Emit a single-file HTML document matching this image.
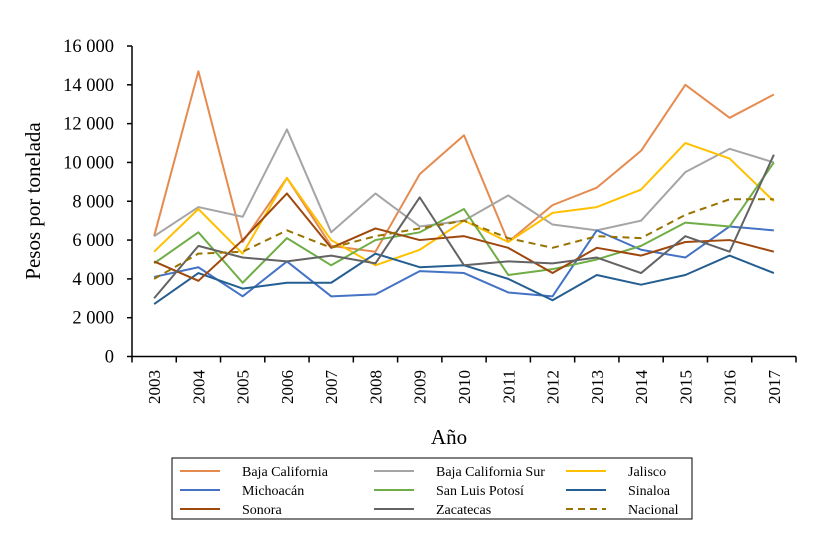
<!DOCTYPE html>
<html><head><meta charset="utf-8"><style>
body{margin:0;background:#fff;}
svg{display:block;font-family:"Liberation Serif",serif;}
</style></head><body>
<svg id="c" width="831" height="552"></svg>
<script>
const years=[2003,2004,2005,2006,2007,2008,2009,2010,2011,2012,2013,2014,2015,2016,2017];
const yTicks=[0,2000,4000,6000,8000,10000,12000,14000,16000];
const names=["Baja California","Baja California Sur","Jalisco","Michoacán","San Luis Potosí","Sinaloa","Sonora","Zacatecas","Nacional"];
const bajaCalifornia=[6200,14700,5900,9200,5700,5400,9400,11400,5900,7800,8700,10600,14000,12300,13500];
const bajaCaliforniaSur=[6200,7700,7200,11700,6400,8400,6700,7000,8300,6800,6500,7000,9500,10700,10000];
const jalisco=[5400,7600,5300,9200,6000,4700,5500,7000,5900,7400,7700,8600,11000,10200,8000];
const michoacan=[4100,4600,3100,4900,3100,3200,4400,4300,3300,3100,6500,5500,5100,6700,6500];
const sanLuisPotosi=[4800,6400,3800,6100,4700,6000,6400,7600,4200,4500,5000,5700,6900,6700,10000];
const sinaloa=[2700,4300,3500,3800,3800,5300,4600,4700,4000,2900,4200,3700,4200,5200,4300];
const sonora=[4900,3900,6000,8400,5600,6600,6000,6200,5600,4300,5600,5200,5900,6000,5400];
const zacatecas=[3000,5700,5100,4900,5200,4800,8200,4700,4900,4800,5100,4300,6200,5400,10400];
const nacional=[4000,5300,5400,6500,5600,6200,6600,7000,6100,5600,6200,6100,7300,8100,8100];
const series=[bajaCalifornia,bajaCaliforniaSur,jalisco,michoacan,sanLuisPotosi,sinaloa,sonora,zacatecas,nacional];
const colors=["#E68B4F","#A5A5A5","#FFC000","#4472C4","#70AD47","#255E91","#9E480E","#636363","#997300"];
const slugs=["baja-california","baja-california-sur","jalisco","michoacan","san-luis-potosi","sinaloa","sonora","zacatecas","nacional"];
const NS="http://www.w3.org/2000/svg",svg=document.getElementById('c');
const x0=132,x1=796,yB=356.5,yT=46,yMax=16000;
const step=(x1-x0)/years.length;
const X=i=>x0+step*(i+0.5);
const Y=v=>yB-(v/yMax)*(yB-yT);
function mk(t,a,p){const e=document.createElementNS(NS,t);for(const k in a)e.setAttribute(k,a[k]);(p||svg).appendChild(e);return e;}
yTicks.forEach(v=>{
 const t=mk('text',{x:114,y:Y(v)+6,'text-anchor':'end','font-size':18.5});
 t.textContent=(v>=1000?Math.floor(v/1000)+' '+String(v%1000).padStart(3,'0'):String(v));
 
 
});
const ax=mk('path',{d:`M${x0},${yT} V${yB} H${x1}`,stroke:'#000','stroke-width':1.5,fill:'none'});


yTicks.forEach(v=>{const l=mk('line',{x1:x0-5,x2:x0,y1:Y(v),y2:Y(v),stroke:'#000','stroke-width':1.5});
 
 });
for(let i=0;i<=years.length;i++){const l=mk('line',{x1:x0+step*i,x2:x0+step*i,y1:yB,y2:yB+6,stroke:'#000','stroke-width':1.5});
 
 }
years.forEach((yr,i)=>{const t=mk('text',{transform:`translate(${X(i)+6},370) rotate(-90)`,'text-anchor':'end','font-size':17});t.textContent=yr;
 
 });
series.forEach((s,k)=>{
 const p=mk('polyline',{points:s.map((v,i)=>X(i)+','+Y(v)).join(' '),fill:'none',stroke:colors[k],'stroke-width':2,'stroke-dasharray':k==8?'7,5':'none','stroke-linejoin':'round'});
 
 
});
const yt=mk('text',{transform:'translate(40,201) rotate(-90)','text-anchor':'middle','font-size':21});yt.textContent='Pesos por tonelada';


const xt=mk('text',{x:449,y:444,'text-anchor':'middle','font-size':21});xt.textContent='Año';


const lb=mk('rect',{x:172,y:458,width:520,height:61,fill:'#fff',stroke:'#000','stroke-width':1});


const colX=[180,374,566],rowY=[471,490,509];
names.forEach((n,k)=>{
 const cx=colX[k%3],cy=rowY[Math.floor(k/3)];
 const g=mk('g',{});
 
 
 mk('line',{x1:cx,x2:cx+40,y1:cy,y2:cy,stroke:colors[k],'stroke-width':2,'stroke-dasharray':k==8?'7,5':'none'},g);
 const t=mk('text',{x:cx+62,y:cy+5,'font-size':14},g);t.textContent=n;
});
</script>
</body></html>
